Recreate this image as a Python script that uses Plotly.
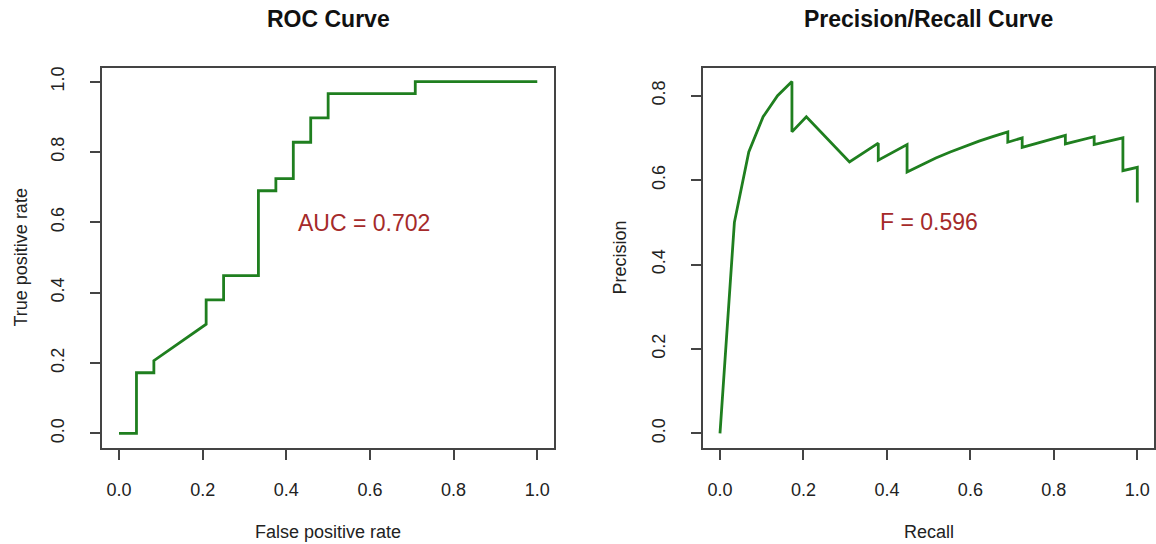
import plotly.graph_objects as go

# ROC curve: false positive rate vs true positive rate
roc_fpr = [0.0, 0.0417, 0.0417, 0.0833, 0.0833, 0.2083, 0.2083, 0.25, 0.25,
           0.3333, 0.3333, 0.375, 0.375, 0.4167, 0.4167, 0.4583, 0.4583,
           0.5, 0.5, 0.7083, 0.7083, 1.0]
roc_tpr = [0.0, 0.0, 0.1724, 0.1724, 0.2069, 0.3103, 0.3793, 0.3793, 0.4483,
           0.4483, 0.6897, 0.6897, 0.7241, 0.7241, 0.8276, 0.8276, 0.8966,
           0.8966, 0.9655, 0.9655, 1.0, 1.0]

# Precision/recall curve
pr_recall = [0.0, 0.0345, 0.069, 0.1034, 0.1379, 0.1724, 0.1724, 0.2069,
             0.3103, 0.3793, 0.3793, 0.4483, 0.4483, 0.4828, 0.5172, 0.5517,
             0.5862, 0.6207, 0.6552, 0.6897, 0.6897, 0.7241, 0.7241, 0.7586,
             0.7931, 0.8276, 0.8276, 0.8621, 0.8966, 0.8966, 0.931, 0.9655,
             0.9655, 1.0, 1.0]
pr_precision = [0.0, 0.5, 0.6667, 0.75, 0.8, 0.8333, 0.7143, 0.75,
                0.6429, 0.6875, 0.6471, 0.6842, 0.619, 0.6364, 0.6522, 0.6667,
                0.68, 0.6923, 0.7037, 0.7143, 0.6897, 0.7, 0.6774, 0.6875,
                0.697, 0.7059, 0.6857, 0.6944, 0.7027, 0.6842, 0.6923, 0.7,
                0.6222, 0.6304, 0.5472]

tick_vals = [0.0, 0.2, 0.4, 0.6, 0.8, 1.0]
tick_text = ["0.0", "0.2", "0.4", "0.6", "0.8", "1.0"]
pr_ytick_vals = [0.0, 0.2, 0.4, 0.6, 0.8]
pr_ytick_text = ["0.0", "0.2", "0.4", "0.6", "0.8"]

auc_label = "AUC = 0.702"
f_label = "F = 0.596"

FONT = "Liberation Sans, Arial, Helvetica, sans-serif"
LINE_GREEN = "#1f7f1f"
TEXT_RED = "#a52a2a"
AXIS_GREY = "#444444"

fig = go.Figure()
fig.add_trace(go.Scatter(x=roc_fpr, y=roc_tpr, mode="lines",
                         line=dict(color=LINE_GREEN, width=2.8),
                         xaxis="x", yaxis="y", showlegend=False,
                         hoverinfo="skip"))
fig.add_trace(go.Scatter(x=pr_recall, y=pr_precision, mode="lines",
                         line=dict(color=LINE_GREEN, width=2.8),
                         xaxis="x2", yaxis="y2", showlegend=False,
                         hoverinfo="skip"))

W, H = 1156, 544
y_dom = [1 - 447.5 / H, 1 - 67.5 / H]


def axis_style(**kw):
    base = dict(showgrid=False, zeroline=False, showline=True, mirror=True,
                linecolor=AXIS_GREY, linewidth=1.5, ticks="outside",
                ticklen=11, tickwidth=1.5, tickcolor=AXIS_GREY,
                tickfont=dict(family=FONT, size=18, color="#222222"),
                tickmode="array", fixedrange=True)
    base.update(kw)
    return base


fig.update_layout(
    width=W, height=H,
    margin=dict(l=0, r=0, t=0, b=0),
    paper_bgcolor="white", plot_bgcolor="white",
    font=dict(family=FONT, color="#222222"),
    xaxis=axis_style(domain=[102.3 / W, 554 / W], range=[-0.04, 1.04],
                     tickvals=tick_vals, ticktext=tick_text, anchor="y",
                     ticklabelstandoff=14),
    yaxis=axis_style(domain=y_dom, range=[-0.04, 1.04],
                     tickvals=tick_vals, ticktext=tick_text, anchor="x",
                     tickangle=-90, ticklabelstandoff=18),
    xaxis2=axis_style(domain=[703.3 / W, 1154 / W], range=[-0.04, 1.04],
                      tickvals=tick_vals, ticktext=tick_text, anchor="y2",
                      ticklabelstandoff=14),
    yaxis2=axis_style(domain=y_dom, range=[-0.0333, 0.8667],
                      tickvals=pr_ytick_vals, ticktext=pr_ytick_text,
                      anchor="x2", tickangle=-90, ticklabelstandoff=18),
)

annotations = [
    # panel titles
    dict(text="<b>ROC Curve</b>", x=328 / W, y=1 - 19 / H,
         font=dict(size=23, family=FONT, color="#111111")),
    dict(text="<b>Precision/Recall Curve</b>", x=928.5 / W, y=1 - 19 / H,
         font=dict(size=23, family=FONT, color="#111111")),
    # axis titles
    dict(text="False positive rate", x=328 / W, y=1 - 532 / H,
         font=dict(size=18, family=FONT, color="#222222")),
    dict(text="Recall", x=928.5 / W, y=1 - 532 / H,
         font=dict(size=18, family=FONT, color="#222222")),
    dict(text="True positive rate", x=20 / W, y=1 - 257.5 / H, textangle=-90,
         font=dict(size=18, family=FONT, color="#222222")),
    dict(text="Precision", x=619 / W, y=1 - 257.5 / H, textangle=-90,
         font=dict(size=18, family=FONT, color="#222222")),
]
for a in annotations:
    a.update(xref="paper", yref="paper", xanchor="center", yanchor="middle",
             showarrow=False)
    fig.add_annotation(**a)

# metric labels inside the panels
fig.add_annotation(text=auc_label, x=0.586, y=0.597, xref="x", yref="y",
                   showarrow=False, xanchor="center", yanchor="middle",
                   font=dict(size=23, family=FONT, color=TEXT_RED))
fig.add_annotation(text=f_label, x=0.5, y=0.501, xref="x2", yref="y2",
                   showarrow=False, xanchor="center", yanchor="middle",
                   font=dict(size=23, family=FONT, color=TEXT_RED))

fig.write_html("out.html")
